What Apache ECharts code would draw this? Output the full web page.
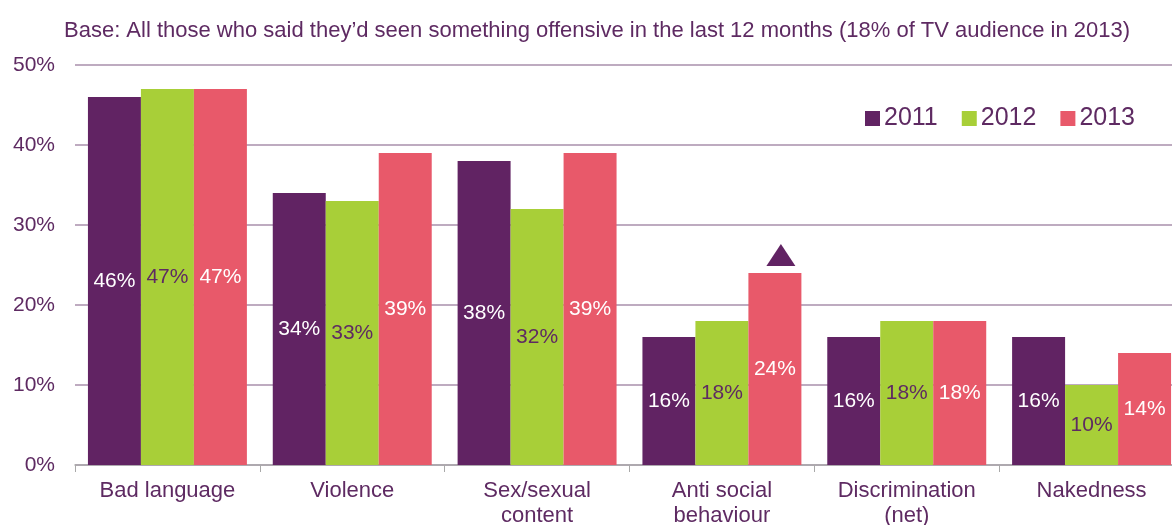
<!DOCTYPE html>
<html><head><meta charset="utf-8">
<script src="https://cdn.jsdelivr.net/npm/echarts@6/dist/echarts.min.js"></script>
<style>html,body{margin:0;padding:0;background:#fff}#c{width:1172px;height:525px}</style>
</head><body><div id="c"></div>
<script>
const categories = ['Bad language', 'Violence', 'Sex/sexual\ncontent', 'Anti social\nbehaviour', 'Discrimination\n(net)', 'Nakedness'];
const years = ['2011', '2012', '2013'];
const v2011 = [46, 34, 38, 16, 16, 16];
const v2012 = [47, 33, 32, 18, 18, 10];
const v2013 = [47, 39, 39, 24, 18, 14];
const yTicks = [0, 10, 20, 30, 40, 50];
const titleText = 'Base: All those who said they\u2019d seen something offensive in the last 12 months (18% of TV audience in 2013)';

const PURPLE = '#612363', GREEN = '#a8cf38', RED = '#e8596a';
const TXT = '#5e2a62';
const FONT = 'Liberation Sans, Arial, sans-serif';

function barSeries(name, data, color, labelColor, extra) {
  return Object.assign({
    name, type: 'bar', data,
    itemStyle: { color },
    barGap: '0%', barCategoryGap: '14%',
    label: { show: true, position: 'inside', formatter: '{c}%', color: labelColor, fontSize: 21, fontFamily: FONT },
    emphasis: { disabled: true }
  }, extra || {});
}

const chart = echarts.init(document.getElementById('c'));
chart.setOption({
  animation: false,
  title: { text: titleText, left: 59, top: 15, textStyle: { color: TXT, fontSize: 22, fontWeight: 'normal', fontFamily: FONT } },
  legend: {
    data: years, right: 32, top: 101, itemWidth: 15, itemHeight: 15, itemGap: 24,
    icon: 'rect', textStyle: { color: TXT, fontSize: 25, fontFamily: FONT, padding: [0, 0, 0, -1] }
  },
  grid: { left: 75, width: 1109, top: 65, bottom: 60, containLabel: false, outerBoundsMode: 'none' },
  xAxis: {
    type: 'category', data: categories,
    axisLine: { lineStyle: { color: '#a9a9a9', width: 1.5 } },
    axisTick: { show: true, length: 7, lineStyle: { color: '#a9a9a9' } },
    axisLabel: { color: TXT, fontSize: 22, fontFamily: FONT, margin: 13, lineHeight: 25, interval: 0 }
  },
  yAxis: {
    type: 'value', min: yTicks[0], max: yTicks[yTicks.length - 1], interval: 10,
    axisLine: { show: false }, axisTick: { show: false },
    axisLabel: { formatter: '{value}%', color: TXT, fontSize: 21, fontFamily: FONT, margin: 20 },
    splitLine: { lineStyle: { color: '#a98fab', width: 1.5 } }
  },
  series: [
    barSeries('2011', v2011, PURPLE, '#ffffff'),
    barSeries('2012', v2012, GREEN, TXT),
    barSeries('2013', v2013, RED, '#ffffff', {
      markPoint: {
        symbol: 'triangle', symbolSize: [29, 22], symbolOffset: [6, -18],
        itemStyle: { color: PURPLE }, label: { show: false },
        data: [{ coord: [categories[3], v2013[3]] }]
      }
    })
  ]
});
</script></body></html>
